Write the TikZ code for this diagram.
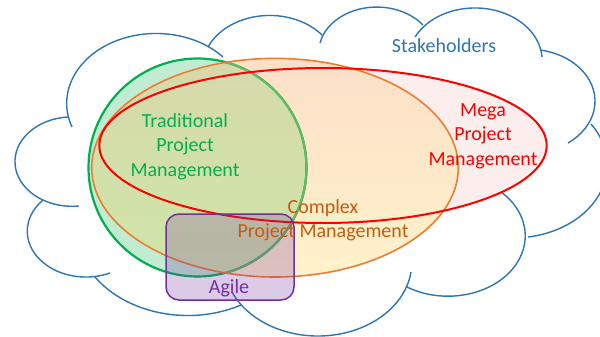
\documentclass[tikz,border=0pt]{standalone}
\usepackage{fontspec}
\setmainfont{Carlito}
\definecolor{cloudblue}{RGB}{46,117,182}
\definecolor{tgreen}{RGB}{0,176,80}
\definecolor{tgreenmute}{RGB}{100,186,100}
\definecolor{mint}{RGB}{193,236,210}
\definecolor{corange}{RGB}{237,125,49}
\definecolor{ctext}{RGB}{197,90,17}
\definecolor{mred}{RGB}{255,0,0}
\definecolor{pink}{RGB}{253,238,238}
\definecolor{apurple}{RGB}{112,48,160}
\definecolor{peachtop}{RGB}{252,224,200}
\definecolor{peachbot}{RGB}{255,242,202}
\definecolor{olivetop}{RGB}{214,217,170}
\definecolor{olivebot}{RGB}{207,230,168}
\tikzset{
  cloudline/.style={draw=cloudblue, line width=1.4pt},
  lbl/.style={font=\fontsize{20}{24}\selectfont, anchor=base, inner sep=0pt},
}
\newcommand{\mlines}[1]{\begin{tabular}[t]{@{}c@{}}#1\end{tabular}}
\def\cwk{1.28}
% elliptic arc (x radius = \cwk * y radius) through three points given in px
\newcommand{\cloudarc}[6]{%
  \pgfmathsetmacro{\cwUb}{((#3)-(#1))/(100*\cwk)}%
  \pgfmathsetmacro{\cwVb}{((#4)-(#2))/100}%
  \pgfmathsetmacro{\cwUc}{((#5)-(#1))/(100*\cwk)}%
  \pgfmathsetmacro{\cwVc}{((#6)-(#2))/100}%
  \pgfmathsetmacro{\cwD}{2*((\cwUb)*(\cwVc)-(\cwUc)*(\cwVb))}%
  \pgfmathsetmacro{\cwSb}{(\cwUb)*(\cwUb)+(\cwVb)*(\cwVb)}%
  \pgfmathsetmacro{\cwSc}{(\cwUc)*(\cwUc)+(\cwVc)*(\cwVc)}%
  \pgfmathsetmacro{\cwH}{((\cwVc)*(\cwSb)-(\cwVb)*(\cwSc))/(\cwD)}%
  \pgfmathsetmacro{\cwK}{((\cwUb)*(\cwSc)-(\cwUc)*(\cwSb))/(\cwD)}%
  \pgfmathsetmacro{\cwR}{sqrt((\cwH)*(\cwH)+(\cwK)*(\cwK))}%
  \pgfmathsetmacro{\cwAa}{atan2(-(\cwK),-(\cwH))}%
  \pgfmathsetmacro{\cwAb}{atan2((\cwVb)-(\cwK),(\cwUb)-(\cwH))}%
  \pgfmathsetmacro{\cwAc}{atan2((\cwVc)-(\cwK),(\cwUc)-(\cwH))}%
  \pgfmathsetmacro{\cwDb}{Mod((\cwAb)-(\cwAa),360)}%
  \pgfmathsetmacro{\cwDc}{Mod((\cwAc)-(\cwAa),360)}%
  \pgfmathsetmacro{\cwAe}{(\cwDb)<(\cwDc) ? (\cwAa)+(\cwDc) : (\cwAa)-(360-(\cwDc))}%
  \draw[cloudline] (#1,#2) arc[start angle=\cwAa, end angle=\cwAe, x radius=100*\cwk*\cwR, y radius=100*\cwR];%
}
\begin{document}
\begin{tikzpicture}[x=1pt,y=-1pt]
\useasboundingbox (0,0) rectangle (600,337);
\fill[white] (0,0) rectangle (600,337);
\clip (0,0) rectangle (600,337);
% cloud (Stakeholders)
\cloudarc{72}{127}{105}{46}{223}{57}
\cloudarc{208}{47}{260}{16}{322}{35}
\cloudarc{320}{43}{365}{8}{423}{25}
\cloudarc{415}{37}{477}{8}{542}{57}
\cloudarc{540}{50}{595}{102}{568}{143}
\cloudarc{591}{124}{600}{193}{528}{237}
\cloudarc{407}{287}{517}{263}{483}{182}
\cloudarc{232}{292}{320}{336}{411}{272}
\cloudarc{95}{277}{167}{314}{241}{305}
\cloudarc{43}{200}{30}{245}{110}{273}
\cloudarc{68}{117}{15}{160}{79}{206}
% fills
\fill[mint] (197.5,167.5) circle[radius=109];
\fill[pink] (323,145.5) ellipse[x radius=223.7, y radius=77.5];
\shade[top color=peachtop, bottom color=peachbot] (275,167.7) ellipse[x radius=183.3, y radius=109.3];
\begin{scope}
  \clip (275,167.7) ellipse[x radius=183.3, y radius=109.3];
  \shade[top color=olivetop, bottom color=olivebot] (197.5,167.5) circle[radius=109];
\end{scope}
% traditional outline
\draw[tgreen, line width=2.2pt] (197.5,167.5) circle[radius=109];
\begin{scope}
  \clip (275,167.7) ellipse[x radius=183.3, y radius=109.3];
  \draw[tgreenmute, line width=2.2pt] (197.5,167.5) circle[radius=109];
\end{scope}
% complex outline
\draw[corange, line width=1.6pt] (275,167.7) ellipse[x radius=183.3, y radius=109.3];
% mega outline
\draw[mred, line width=2pt] (323,145.5) ellipse[x radius=223.7, y radius=77.5];
% agile
\fill[apurple, fill opacity=0.25, rounded corners=13pt] (166,214) rectangle (294,300);
\draw[apurple, line width=1.5pt, rounded corners=13pt] (166,214) rectangle (294,300);
% labels
\node[lbl, text=cloudblue] (stake) at (444,53) {Stakeholders};
\node[lbl, text=tgreen] (trad) at (185,128) {\mlines{Traditional\\Project\\Management}};
\node[lbl, text=mred] (mega) at (483,117) {\mlines{Mega\\Project\\Management}};
\node[lbl, text=ctext] (cplx) at (323,213) {\mlines{Complex\\Project Management}};
\node[lbl, text=apurple] (agile) at (229,293) {Agile};
\end{tikzpicture}
\end{document}
